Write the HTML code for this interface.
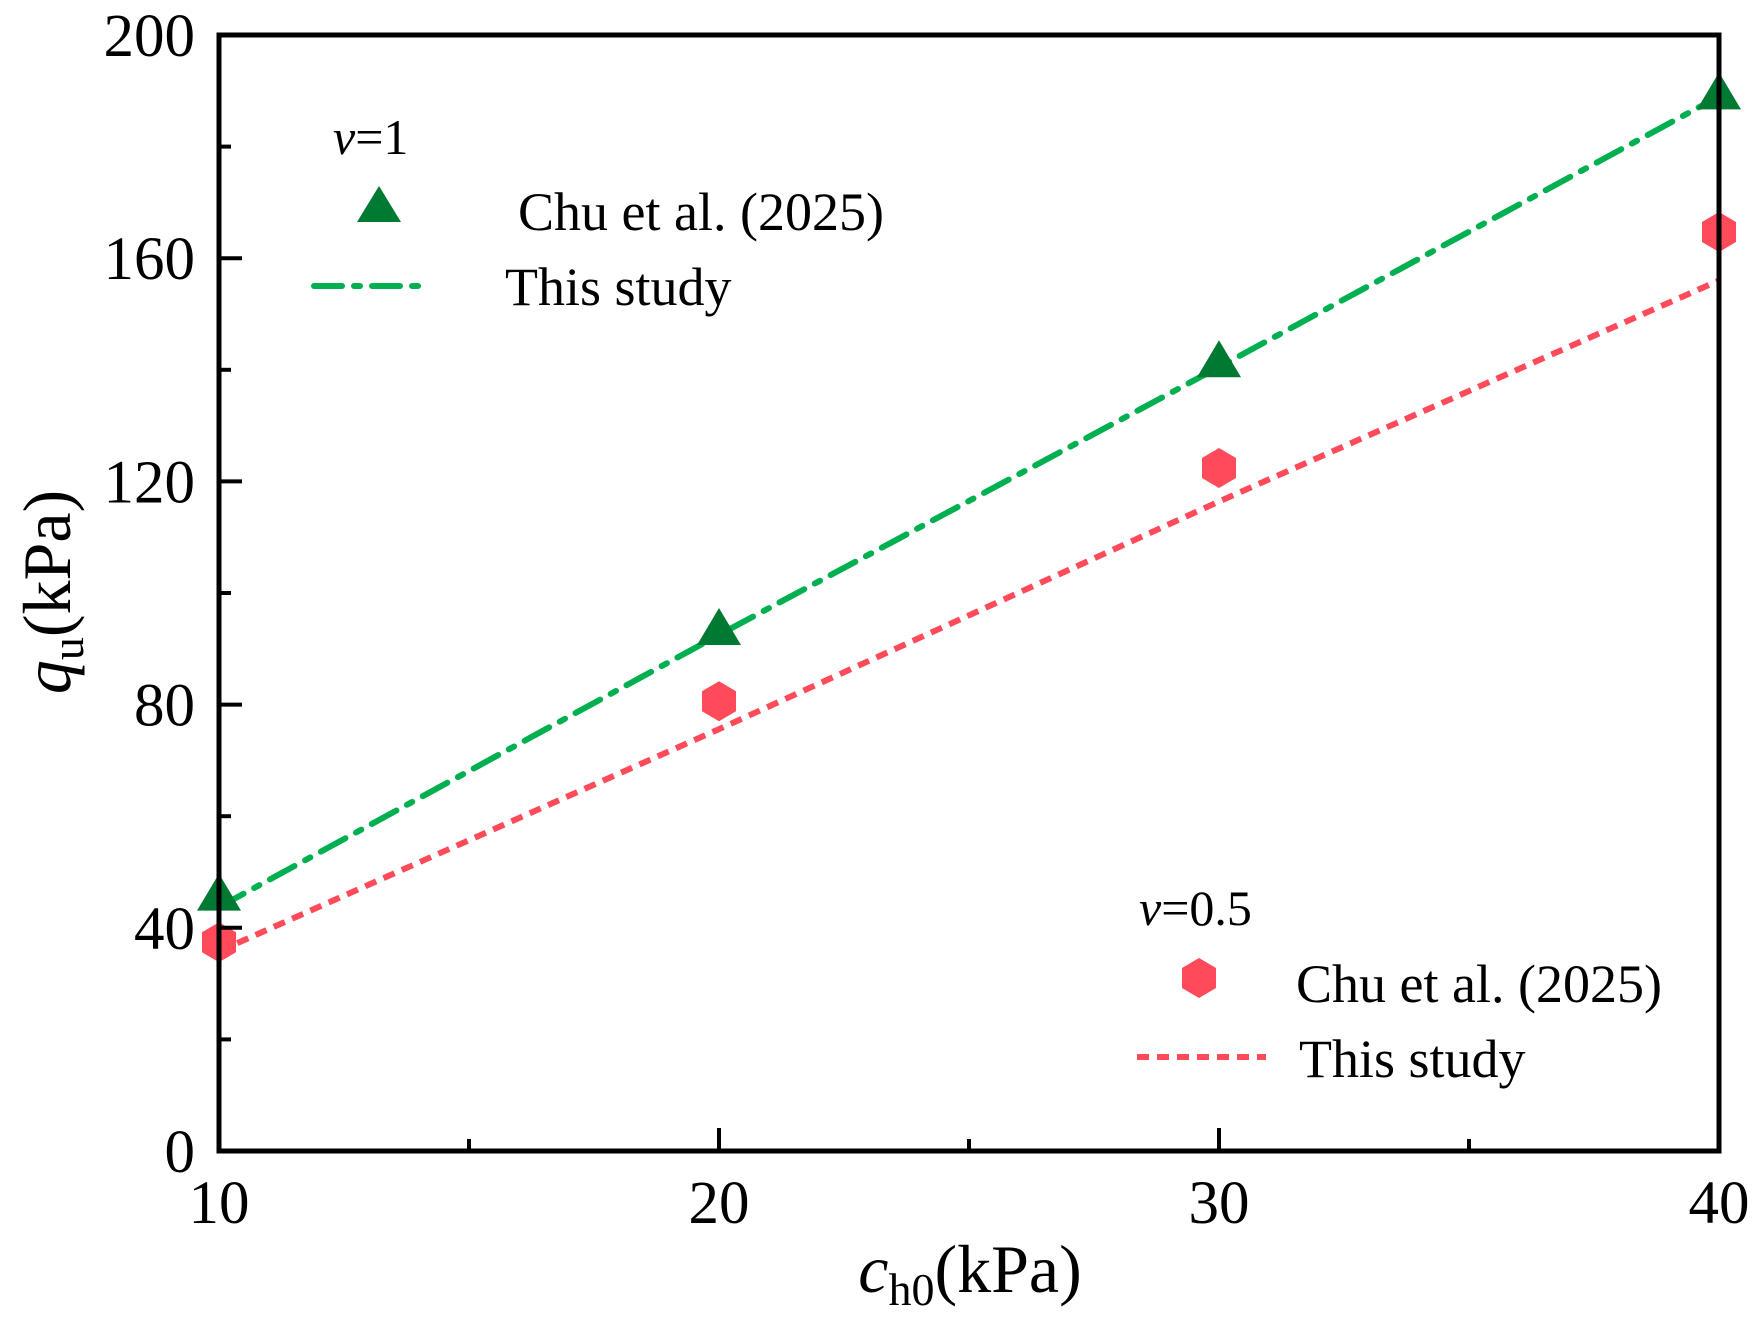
<!DOCTYPE html>
<html><head><meta charset="utf-8"><style>
body{margin:0;background:#fff}
svg{display:block;font-family:"Liberation Serif",serif}
</style></head><body>
<svg id="chart" width="1759" height="1324" viewBox="0 0 1759 1324">
<g id="marks"></g>
<g id="axes"></g>
<g id="legend">
  <text x="333" y="154" font-size="50"><tspan font-style="italic">v</tspan>=1</text>
  <polygon points="379,186 401,222 357,222" fill="#007a33"/>
  <text x="518" y="230" font-size="54">Chu et al. (2025)</text>
  <line x1="314" y1="286" x2="430" y2="286" stroke="#00b050" stroke-width="6" stroke-dasharray="28,12,6,12" stroke-linecap="round"/>
  <text x="505" y="305" font-size="54">This study</text>
  <text x="1139" y="925" font-size="50"><tspan font-style="italic">v</tspan>=0.5</text>
  <polygon points="1199,958 1216,968 1216,988 1199,998 1182,988 1182,968" fill="#ff4a5a"/>
  <text x="1296" y="1002" font-size="54">Chu et al. (2025)</text>
  <line x1="1137" y1="1057" x2="1266" y2="1057" stroke="#ff4a5a" stroke-width="6" stroke-dasharray="12,8"/>
  <text x="1299" y="1077" font-size="54">This study</text>
</g>
</svg>
<script>
const xCats=[10,20,30,40];
const triVals=[45.4,93,141,189];
const hexVals=[37.4,80.6,122.4,164.7];
const greenLine=[43.7,92.5,140.5,189];
const redLine=[35.8,75.6,116.4,156];
const yTicks=[0,40,80,120,160,200];
const xTicks=[10,20,30,40];
const L=219,R=1719,T=35,B=1151;
const xs=v=>L+(v-10)/30*(R-L);
const ys=v=>B-v/200*(B-T);
const NS="http://www.w3.org/2000/svg";
const marks=document.getElementById('marks'),axes=document.getElementById('axes');
function mk(tag,attrs,parent){const e=document.createElementNS(NS,tag);for(const k in attrs)e.setAttribute(k,attrs[k]);parent.appendChild(e);return e;}
let p=mk('polyline',{points:xCats.map((c,i)=>xs(c)+','+ys(greenLine[i])).join(' '),fill:'none',stroke:'#00b050','stroke-width':6,'stroke-dasharray':'28,12,6,12','stroke-linecap':'round'},marks);


p=mk('polyline',{points:xCats.map((c,i)=>xs(c)+','+ys(redLine[i])).join(' '),fill:'none',stroke:'#ff4a5a','stroke-width':6,'stroke-dasharray':'12,8'},marks);


xCats.forEach((c,i)=>{
  const x=xs(c),y=ys(triVals[i]);
  const t=mk('polygon',{points:`${x},${y-24} ${x+22},${y+13} ${x-22},${y+13}`,fill:'#007a33'},marks);
  
  
  const y2=ys(hexVals[i]);
  const h=mk('polygon',{points:`${x},${y2-20} ${x+17},${y2-10} ${x+17},${y2+10} ${x},${y2+20} ${x-17},${y2+10} ${x-17},${y2-10}`,fill:'#ff4a5a'},marks);
  
  
});
const frame=mk('rect',{x:L,y:T,width:R-L,height:B-T,fill:'none',stroke:'#000','stroke-width':5},axes);


yTicks.forEach(v=>{
  const y=ys(v);
  mk('line',{x1:L,y1:y,x2:L+23,y2:y,stroke:'#000','stroke-width':4},axes);
  const t=mk('text',{x:195,y:y+21,'font-size':61,'text-anchor':'end'},axes);t.textContent=v;
  
  
  if(v<200){const m=ys(v+20);mk('line',{x1:L,y1:m,x2:L+12,y2:m,stroke:'#000','stroke-width':4},axes);}
});
xTicks.forEach(v=>{
  const x=xs(v);
  mk('line',{x1:x,y1:B,x2:x,y2:B-23,stroke:'#000','stroke-width':4},axes);
  const t=mk('text',{x:x,y:1223,'font-size':61,'text-anchor':'middle'},axes);t.textContent=v;
  
  
  if(v<40){const m=xs(v+5);mk('line',{x1:m,y1:B,x2:m,y2:B-12,stroke:'#000','stroke-width':4},axes);}
});
</script>
<svg style="position:absolute;left:0;top:0" width="1759" height="1324">
<text x="970" y="1292" font-size="68" text-anchor="middle" font-family="Liberation Serif,serif"><tspan font-style="italic">c</tspan><tspan font-size="46" dy="13">h0</tspan><tspan dy="-13">(kPa)</tspan></text>
<text transform="translate(70,592) rotate(-90)" font-size="68" text-anchor="middle" font-family="Liberation Serif,serif"><tspan font-style="italic">q</tspan><tspan font-size="46" dy="13">u</tspan><tspan dy="-13">(kPa)</tspan></text>
</svg>
</body></html>
